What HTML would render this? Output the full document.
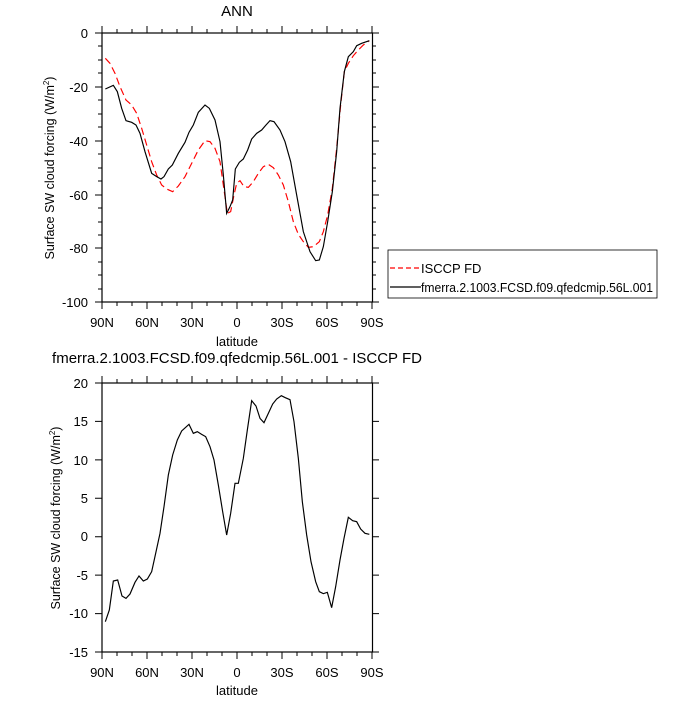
<!DOCTYPE html>
<html><head><meta charset="utf-8"><style>
body{margin:0;background:#fff;}
svg text{font-family:"Liberation Sans",sans-serif;fill:#000;}
</style></head><body>
<svg width="700" height="700" viewBox="0 0 700 700" xmlns="http://www.w3.org/2000/svg">
<rect width="700" height="700" fill="#fff"/>
<g transform="translate(90,25) scale(0.3333333)">
<polyline fill="none" stroke="#ff0000" stroke-width="3.5" stroke-dasharray="22,12" points="46,100 60,115 75,145 90,185 108,225 125,240 140,265 155,310 170,360 185,410 200,450 215,480 230,492 248,500 265,483 285,455 305,415 325,375 345,347 360,350 375,370 390,410 400,480 412,565 422,560 432,510 440,475 450,467 462,485 475,487 490,470 505,445 520,425 535,418 550,428 565,450 580,480 595,530 610,590 625,628 640,650 655,667 670,665 688,650 700,620 713,570 727,490 740,370 752,240 763,140 775,115 790,92 805,75 820,60 838,47"/>
<polyline fill="none" stroke="#000" stroke-width="3.5" points="46,192 70,181 82,200 95,250 108,287 125,292 138,300 150,325 165,380 185,445 200,455 213,462 222,455 235,432 247,420 265,385 285,352 297,322 310,300 325,262 345,240 358,250 375,285 390,350 400,450 410,565 420,545 428,525 436,432 448,412 460,402 473,375 485,342 500,325 515,315 528,300 540,287 552,290 570,315 585,350 602,410 620,510 640,620 660,680 677,707 688,705 700,665 713,590 727,500 740,380 750,250 763,140 775,95 790,80 800,62 815,55 838,47"/>
</g>
<rect x="102" y="33" width="270.5" height="269" fill="none" stroke="#000" stroke-width="1.2"/>
<g stroke="#000" stroke-width="1">
<path d="M102,302v7M147,302v7M192,302v7M237,302v7M282,302v7M327,302v7M372,302v7M102,33v-7M147,33v-7M192,33v-7M237,33v-7M282,33v-7M327,33v-7M372,33v-7"/>
<path d="M117,302v4M132,302v4M162,302v4M177,302v4M207,302v4M222,302v4M252,302v4M267,302v4M297,302v4M312,302v4M342,302v4M357,302v4M117,33v-4M132,33v-4M162,33v-4M177,33v-4M207,33v-4M222,33v-4M252,33v-4M267,33v-4M297,33v-4M312,33v-4M342,33v-4M357,33v-4"/>
<path d="M102,33h-7M102,87h-7M102,141h-7M102,195h-7M102,248h-7M102,302h-7M372,33h7M372,87h7M372,141h7M372,195h7M372,248h7M372,302h7"/>
<path d="M102,46h-4M102,60h-4M102,73h-4M102,100h-4M102,114h-4M102,127h-4M102,154h-4M102,168h-4M102,181h-4M102,208h-4M102,222h-4M102,235h-4M102,262h-4M102,275h-4M102,289h-4M372,46h4M372,60h4M372,73h4M372,100h4M372,114h4M372,127h4M372,154h4M372,168h4M372,181h4M372,208h4M372,222h4M372,235h4M372,262h4M372,275h4M372,289h4"/>
</g>
<g font-size="13" text-anchor="end">
<text x="88" y="38">0</text><text x="88" y="92">-20</text><text x="88" y="146">-40</text><text x="88" y="200">-60</text><text x="88" y="253">-80</text><text x="88" y="307">-100</text>
</g>
<g font-size="13" text-anchor="middle">
<text x="102" y="327">90N</text><text x="147" y="327">60N</text><text x="192" y="327">30N</text><text x="237" y="327">0</text><text x="282" y="327">30S</text><text x="327" y="327">60S</text><text x="372" y="327">90S</text>
<text x="237" y="346" font-size="13">latitude</text>
<text x="237" y="16" font-size="15">ANN</text>
</g>
<text transform="translate(54,168) rotate(-90)" font-size="12.5" text-anchor="middle">Surface SW cloud forcing (W/m<tspan font-size="8" dy="-5">2</tspan><tspan dy="5">)</tspan></text>
<rect x="388" y="250" width="269" height="48" fill="none" stroke="#000" stroke-width="0.8"/>
<line x1="390" y1="268" x2="421" y2="268" stroke="#ff0000" stroke-width="1.2" stroke-dasharray="5,3"/>
<line x1="390" y1="287" x2="421" y2="287" stroke="#000" stroke-width="1.2"/>
<text x="421" y="273" font-size="13">ISCCP FD</text>
<text x="421" y="292" font-size="13" textLength="232" lengthAdjust="spacingAndGlyphs">fmerra.2.1003.FCSD.f09.qfedcmip.56L.001</text>
<text x="237" y="363" font-size="15" text-anchor="middle">fmerra.2.1003.FCSD.f09.qfedcmip.56L.001 - ISCCP FD</text>
<g transform="translate(90,375) scale(0.3333333)">
<polyline fill="none" stroke="#000" stroke-width="3.5" points="46,740 58,705 70,618 83,615 96,663 108,670 120,657 135,622 147,603 160,618 172,612 185,590 197,535 210,475 222,395 235,300 248,240 262,195 275,168 297,148 310,175 322,170 335,178 347,185 360,215 372,255 385,330 398,410 410,480 422,415 435,325 445,325 460,250 472,165 485,77 498,93 510,130 522,143 535,115 548,87 560,72 574,62 586,68 600,74 612,140 625,250 637,380 650,480 663,560 677,620 688,650 700,656 712,652 725,698 737,635 750,555 762,490 775,427 788,437 800,440 812,462 825,475 838,478"/>
</g>
<rect x="102" y="383" width="270.5" height="269" fill="none" stroke="#000" stroke-width="1.2"/>
<g stroke="#000" stroke-width="1">
<path d="M102,652v7M147,652v7M192,652v7M237,652v7M282,652v7M327,652v7M372,652v7M102,383v-7M147,383v-7M192,383v-7M237,383v-7M282,383v-7M327,383v-7M372,383v-7"/>
<path d="M117,652v4M132,652v4M162,652v4M177,652v4M207,652v4M222,652v4M252,652v4M267,652v4M297,652v4M312,652v4M342,652v4M357,652v4M117,383v-4M132,383v-4M162,383v-4M177,383v-4M207,383v-4M222,383v-4M252,383v-4M267,383v-4M297,383v-4M312,383v-4M342,383v-4M357,383v-4"/>
<path d="M102,383h-7M102,421.4h-7M102,459.9h-7M102,498.3h-7M102,536.7h-7M102,575.1h-7M102,613.6h-7M102,652h-7M372,383h7M372,421.4h7M372,459.9h7M372,498.3h7M372,536.7h7M372,575.1h7M372,613.6h7M372,652h7"/>
</g>
<g font-size="13" text-anchor="end">
<text x="88" y="388">20</text><text x="88" y="426">15</text><text x="88" y="465">10</text><text x="88" y="503">5</text><text x="88" y="541">0</text><text x="88" y="580">-5</text><text x="88" y="618">-10</text><text x="88" y="657">-15</text>
</g>
<g font-size="13" text-anchor="middle">
<text x="102" y="677">90N</text><text x="147" y="677">60N</text><text x="192" y="677">30N</text><text x="237" y="677">0</text><text x="282" y="677">30S</text><text x="327" y="677">60S</text><text x="372" y="677">90S</text>
<text x="237" y="695">latitude</text>
</g>
<text transform="translate(60,518) rotate(-90)" font-size="12.5" text-anchor="middle">Surface SW cloud forcing (W/m<tspan font-size="8" dy="-5">2</tspan><tspan dy="5">)</tspan></text>
</svg>
</body></html>
